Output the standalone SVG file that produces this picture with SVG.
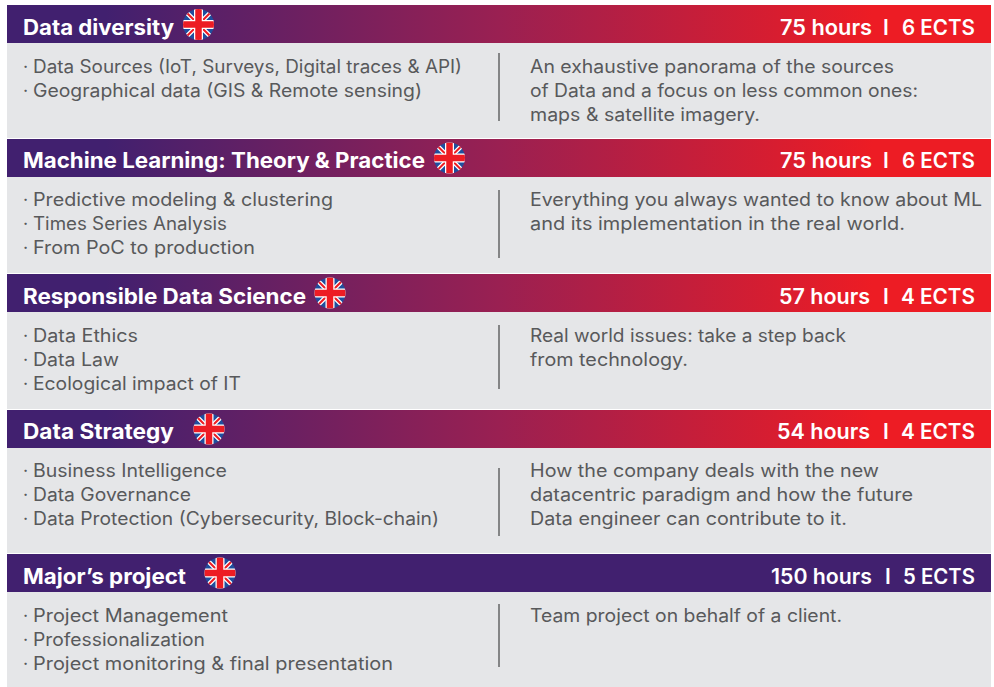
<svg xmlns="http://www.w3.org/2000/svg" width="994" height="687" viewBox="0 0 994 687">
<style>
text{font-family:"Inter","Open Sans","Liberation Sans",sans-serif}
.t{font-size:21px;font-weight:700;fill:#fff}
.h{font-size:21px;font-weight:600;fill:#fff}
.b{font-size:18px;font-weight:400;fill:#58595b}
.p{fill:#e5e6e8}
.d{stroke:#636466;stroke-width:1.5}
</style>
<defs>
<linearGradient id="g" x1="7" x2="991" y1="0" y2="0" gradientUnits="userSpaceOnUse">
<stop offset="0.1" stop-color="#41206f"/>
<stop offset="0.5" stop-color="#9a2052"/>
<stop offset="0.88" stop-color="#ed1c24"/>
</linearGradient>
<clipPath id="c"><circle cx="0" cy="0" r="15.5"/></clipPath>
<g id="flag" clip-path="url(#c)">
<rect x="-16" y="-16" width="32" height="32" fill="#1f4e9e"/>
<path d="M-16-16 16 16M16-16-16 16" stroke="#fff" stroke-width="4.500"/>
<path d="M-16-16 16 16M16-16-16 16" stroke="#ed1c24" stroke-width="2"/>
<path d="M-16 0H16M0-16V16" stroke="#fff" stroke-width="9"/>
<path d="M-16 0H16M0-16V16" stroke="#ed1c24" stroke-width="6.500"/>
</g>
</defs>
<rect width="994" height="687" fill="#fff"/>

<g id="node-data-diversity">
<rect class="p" x="7" y="43" width="984" height="95"/>
<rect x="7" y="5" width="984" height="38" fill="url(#g)"/>
<text class="t" x="23" y="35" textLength="151" lengthAdjust="spacingAndGlyphs">Data diversity</text>
<use href="#flag" x="198.500" y="24.500"/>
<text class="h" y="35"><tspan x="780" textLength="92" lengthAdjust="spacingAndGlyphs">75 hours</tspan> <tspan x="883">I</tspan> <tspan x="902" textLength="73" lengthAdjust="spacingAndGlyphs">6 ECTS</tspan></text>
<text class="b" y="73"><tspan x="23">· </tspan><tspan x="33" textLength="429" lengthAdjust="spacingAndGlyphs">Data Sources (IoT, Surveys, Digital traces &amp; API)</tspan></text>
<text class="b" y="97"><tspan x="23">· </tspan><tspan x="33" textLength="389" lengthAdjust="spacingAndGlyphs">Geographical data (GIS &amp; Remote sensing)</tspan></text>
<text class="b" x="530" y="73" textLength="364" lengthAdjust="spacingAndGlyphs">An exhaustive panorama of the sources</text>
<text class="b" x="530" y="97" textLength="388" lengthAdjust="spacingAndGlyphs">of Data and a focus on less common ones:</text>
<text class="b" x="530" y="121" textLength="230" lengthAdjust="spacingAndGlyphs">maps &amp; satellite imagery.</text>
</g>

<g id="node-machine-learning">
<rect class="p" x="7" y="177" width="984" height="96"/>
<rect x="7" y="139" width="984" height="38" fill="url(#g)"/>
<text class="t" x="23" y="168" textLength="402" lengthAdjust="spacingAndGlyphs">Machine Learning: Theory &amp; Practice</text>
<use href="#flag" x="449.500" y="158"/>
<text class="h" y="168"><tspan x="780" textLength="92" lengthAdjust="spacingAndGlyphs">75 hours</tspan> <tspan x="883">I</tspan> <tspan x="902" textLength="73" lengthAdjust="spacingAndGlyphs">6 ECTS</tspan></text>
<text class="b" y="206"><tspan x="23">· </tspan><tspan x="33" textLength="300" lengthAdjust="spacingAndGlyphs">Predictive modeling &amp; clustering</tspan></text>
<text class="b" y="230"><tspan x="23">· </tspan><tspan x="33" textLength="194" lengthAdjust="spacingAndGlyphs">Times Series Analysis</tspan></text>
<text class="b" y="254"><tspan x="23">· </tspan><tspan x="33" textLength="222" lengthAdjust="spacingAndGlyphs">From PoC to production</tspan></text>
<text class="b" x="530" y="206" textLength="452" lengthAdjust="spacingAndGlyphs">Everything you always wanted to know about ML</text>
<text class="b" x="530" y="230" textLength="375" lengthAdjust="spacingAndGlyphs">and its implementation in the real world.</text>
</g>

<g id="node-responsible-data-science">
<rect class="p" x="7" y="312" width="984" height="97"/>
<rect x="7" y="274" width="984" height="38" fill="url(#g)"/>
<text class="t" x="23" y="304" textLength="283" lengthAdjust="spacingAndGlyphs">Responsible Data Science</text>
<use href="#flag" x="330" y="293"/>
<text class="h" y="304"><tspan x="779" textLength="91" lengthAdjust="spacingAndGlyphs">57 hours</tspan> <tspan x="883">I</tspan> <tspan x="901" textLength="74" lengthAdjust="spacingAndGlyphs">4 ECTS</tspan></text>
<text class="b" y="342"><tspan x="23">· </tspan><tspan x="33" textLength="105" lengthAdjust="spacingAndGlyphs">Data Ethics</tspan></text>
<text class="b" y="366"><tspan x="23">· </tspan><tspan x="33" textLength="86" lengthAdjust="spacingAndGlyphs">Data Law</tspan></text>
<text class="b" y="390"><tspan x="23">· </tspan><tspan x="33" textLength="208" lengthAdjust="spacingAndGlyphs">Ecological impact of IT</tspan></text>
<text class="b" x="530" y="342" textLength="316" lengthAdjust="spacingAndGlyphs">Real world issues: take a step back</text>
<text class="b" x="530" y="366" textLength="158" lengthAdjust="spacingAndGlyphs">from technology.</text>
</g>

<g id="node-data-strategy">
<rect class="p" x="7" y="448" width="984" height="105"/>
<rect x="7" y="410" width="984" height="38" fill="url(#g)"/>
<text class="t" x="23" y="439" textLength="151" lengthAdjust="spacingAndGlyphs">Data Strategy</text>
<use href="#flag" x="209" y="429"/>
<text class="h" y="439"><tspan x="777" textLength="93" lengthAdjust="spacingAndGlyphs">54 hours</tspan> <tspan x="883">I</tspan> <tspan x="901" textLength="74" lengthAdjust="spacingAndGlyphs">4 ECTS</tspan></text>
<text class="b" y="477"><tspan x="23">· </tspan><tspan x="33" textLength="194" lengthAdjust="spacingAndGlyphs">Business Intelligence</tspan></text>
<text class="b" y="501"><tspan x="23">· </tspan><tspan x="33" textLength="158" lengthAdjust="spacingAndGlyphs">Data Governance</tspan></text>
<text class="b" y="525"><tspan x="23">· </tspan><tspan x="33" textLength="406" lengthAdjust="spacingAndGlyphs">Data Protection (Cybersecurity, Block-chain)</tspan></text>
<text class="b" x="530" y="477" textLength="349" lengthAdjust="spacingAndGlyphs">How the company deals with the new</text>
<text class="b" x="530" y="501" textLength="383" lengthAdjust="spacingAndGlyphs">datacentric paradigm and how the future</text>
<text class="b" x="530" y="525" textLength="317" lengthAdjust="spacingAndGlyphs">Data engineer can contribute to it.</text>
</g>

<g id="node-majors-project">
<rect class="p" x="7" y="592" width="984" height="95"/>
<rect x="7" y="554" width="984" height="38" fill="#41206f"/>
<text class="t" x="23" y="584" textLength="163" lengthAdjust="spacingAndGlyphs">Major’s project</text>
<use href="#flag" x="220" y="573"/>
<text class="h" y="584"><tspan x="771" textLength="101" lengthAdjust="spacingAndGlyphs">150 hours</tspan> <tspan x="885">I</tspan> <tspan x="903" textLength="72" lengthAdjust="spacingAndGlyphs">5 ECTS</tspan></text>
<text class="b" y="622"><tspan x="23">· </tspan><tspan x="33" textLength="195" lengthAdjust="spacingAndGlyphs">Project Management</tspan></text>
<text class="b" y="646"><tspan x="23">· </tspan><tspan x="33" textLength="172" lengthAdjust="spacingAndGlyphs">Professionalization</tspan></text>
<text class="b" y="670"><tspan x="23">· </tspan><tspan x="33" textLength="360" lengthAdjust="spacingAndGlyphs">Project monitoring &amp; final presentation</tspan></text>
<text class="b" x="530" y="622" textLength="312" lengthAdjust="spacingAndGlyphs">Team project on behalf of a client.</text>
</g>

<g id="connectors">
<line class="d" x1="499" y1="53" x2="499" y2="121"/>
<line class="d" x1="499" y1="190" x2="499" y2="258"/>
<line class="d" x1="499" y1="325" x2="499" y2="389"/>
<line class="d" x1="499" y1="468" x2="499" y2="536"/>
<line class="d" x1="499" y1="604" x2="499" y2="667"/>
</g>
</svg>
